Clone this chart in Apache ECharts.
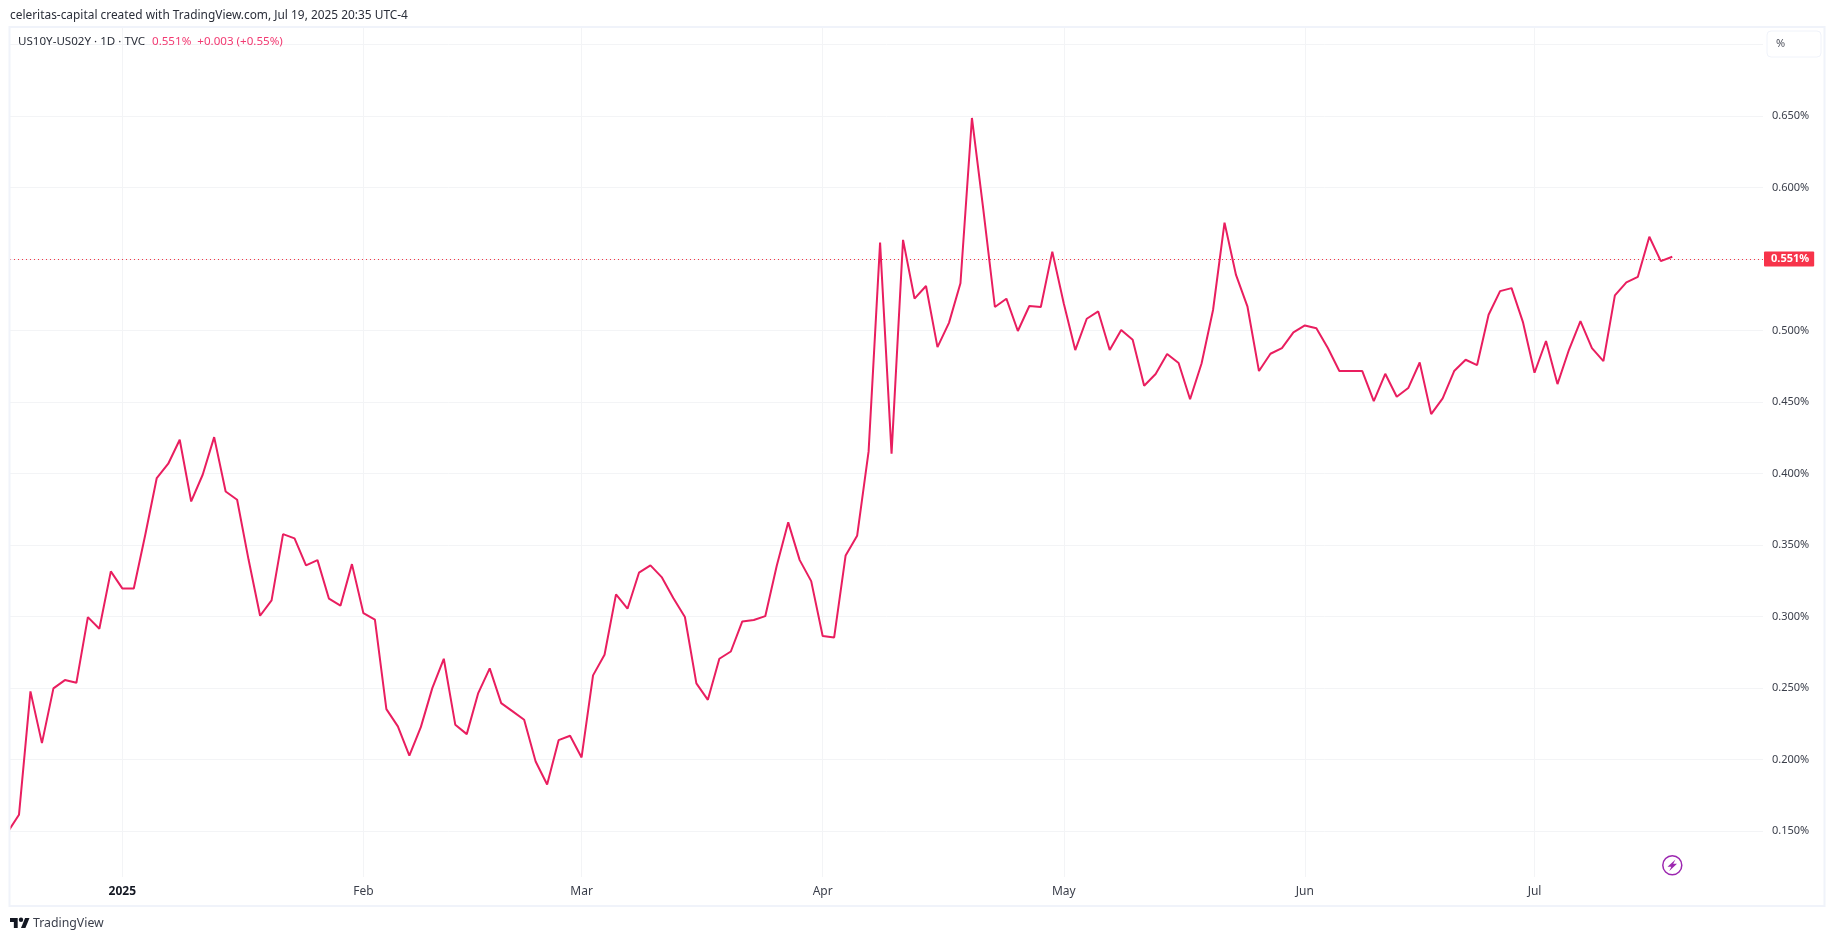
<!DOCTYPE html>
<html>
<head>
    <meta charset="utf-8">
    <title>US10Y-US02Y</title>
    <script src="https://cdn.jsdelivr.net/npm/echarts@6/dist/echarts.min.js"></script>
    <style>
        html, body { margin: 0; padding: 0; background: #fff; }
        #chart { width: 1835px; height: 941px; }
    </style>
</head>

<body>
    <div id="chart"></div>

    <script>
        // daily closes (%), one value per trading day
        var spreadValues = [
            0.149, 0.1614, 0.2477, 0.2115, 0.2498, 0.2556, 0.2537, 0.2996, 0.2915, 0.3316,
            0.3197, 0.3197, 0.3572, 0.3969, 0.4069, 0.4237, 0.3805, 0.3992, 0.4255, 0.3875,
            0.3817, 0.3397, 0.3006, 0.3113, 0.3577, 0.3547, 0.3358, 0.3395, 0.3125, 0.3076,
            0.3367, 0.3024, 0.2978, 0.2353, 0.2232, 0.2027, 0.2227, 0.25, 0.2705, 0.2244,
            0.2178, 0.2465, 0.2638, 0.2395, 0.2337, 0.2279, 0.1987, 0.1826, 0.2136, 0.2167,
            0.2015, 0.2589, 0.2733, 0.3155, 0.3055, 0.3307, 0.3358, 0.3274, 0.3129, 0.2997,
            0.2533, 0.2418, 0.2705, 0.2756, 0.2966, 0.2976, 0.3003, 0.3355, 0.3659, 0.3395,
            0.3248, 0.2864, 0.2854, 0.3428, 0.3565, 0.4155, 0.5615, 0.414, 0.5634, 0.5224,
            0.5312, 0.4884, 0.5054, 0.5331, 0.6487, 0.5841, 0.5165, 0.5223, 0.4997, 0.5172,
            0.5165, 0.5552, 0.519, 0.4864, 0.5083, 0.5134, 0.4864, 0.5004, 0.4936, 0.4614,
            0.4696, 0.4836, 0.4773, 0.452, 0.477, 0.5144, 0.5755, 0.5389, 0.5167, 0.4717,
            0.4838, 0.4878, 0.4987, 0.5036, 0.5017, 0.4878, 0.4717, 0.4717, 0.4717, 0.4507,
            0.4698, 0.4537, 0.4598, 0.4777, 0.4416, 0.4526, 0.4717, 0.4796, 0.4759, 0.5111,
            0.5276, 0.5297, 0.5057, 0.4705, 0.4927, 0.4626, 0.4866, 0.5066, 0.4878, 0.4787,
            0.5246, 0.5337, 0.5376, 0.5656, 0.5486, 0.5516
        ];
        var lastValue = 0.5516;
        var lastLabel = '0.551%';

        // month ticks, position = bar index
        var monthIndex = [10, 31, 50, 71, 92, 113, 133];
        var monthLabels = ['2025', 'Feb', 'Mar', 'Apr', 'May', 'Jun', 'Jul'];

        var gridTicks = [0.15, 0.2, 0.25, 0.3, 0.35, 0.4, 0.45, 0.5, 0.55, 0.6, 0.65, 0.7];
        var labelTicks = [0.15, 0.2, 0.25, 0.3, 0.35, 0.4, 0.45, 0.5, 0.55, 0.6, 0.65];

        var headerText = 'celeritas-capital created with TradingView.com, Jul 19, 2025 20:35 UTC-4';
        var symbolText = 'US10Y-US02Y · 1D · TVC';
        var quoteText = '0.551%  +0.003 (+0.55%)';

        var lineColor = '#e91e5f';
        var gridColor = '#f3f4f6';
        var frameColor = '#f0f3fa';
        var textColor = '#131722';
        var uiFont = '"Noto Sans", sans-serif';

        var seriesData = spreadValues.map(function (v, i) { return [i, v]; });

        var chart = echarts.init(document.getElementById('chart'));

        var option = {
            animation: false,
            backgroundColor: '#ffffff',
            grid: { left: 10, right: 72, top: 28, bottom: 64 },
            xAxis: {
                type: 'value',
                min: 0.218,
                max: 152.9,
                axisLine: { show: false },
                axisTick: { show: false, customValues: monthIndex },
                splitLine: { show: true, lineStyle: { color: gridColor, width: 1 } },
                axisLabel: {
                    customValues: monthIndex,
                    margin: 9,
                    fontFamily: uiFont,
                    fontSize: 12,
                    color: '#3a3e4a',
                    formatter: function (value) {
                        var label = monthLabels[monthIndex.indexOf(value)];
                        return label === '2025' ? '{year|2025}' : label;
                    },
                    rich: {
                        year: { fontFamily: uiFont, fontSize: 12, fontWeight: 'bold', color: textColor }
                    }
                }
            },
            yAxis: {
                type: 'value',
                position: 'right',
                min: 0.1179,
                max: 0.7116,
                axisLine: { show: false },
                axisTick: { show: false, customValues: gridTicks },
                splitLine: { show: true, lineStyle: { color: gridColor, width: 1 } },
                axisLabel: {
                    customValues: labelTicks,
                    margin: 9,
                    fontFamily: uiFont,
                    fontSize: 11,
                    color: '#3a3e4a',
                    formatter: function (value) { return value.toFixed(3) + '%'; }
                }
            },
            series: [{
                name: 'US10Y-US02Y',
                type: 'line',
                data: seriesData,
                symbol: 'none',
                clip: true,
                lineStyle: { color: lineColor, width: 2 },
                markLine: {
                    silent: true,
                    symbol: 'none',
                    lineStyle: { color: '#f23645', type: [1, 3], width: 1 },
                    label: {
                        show: true,
                        position: 'end',
                        distance: 1,
                        formatter: lastLabel,
                        backgroundColor: '#f7334a',
                        color: '#ffffff',
                        fontFamily: uiFont,
                        fontSize: 11,
                        fontWeight: 'bold',
                        padding: [2, 5, 2, 7],
                        borderRadius: 1
                    },
                    data: [{ yAxis: lastValue }]
                }
            }],
            graphic: [
                // pane frame
                { type: 'rect', silent: true, z: 50, shape: { x: 9.5, y: 27, width: 1815, height: 879 },
                  style: { fill: 'none', stroke: frameColor, lineWidth: 2 } },
                // header
                { type: 'text', z: 100, x: 10, y: 10, style: { text: headerText, fill: '#2a2e39', font: '11.9px ' + uiFont } },
                { type: 'text', z: 100, x: 18, y: 36, style: { text: symbolText, fill: '#2a2e39', font: '11.6px ' + uiFont } },
                { type: 'text', z: 100, x: 152, y: 36, style: { text: quoteText, fill: '#f23a72', font: '11.6px ' + uiFont } },
                // % button
                { type: 'rect', z: 60, shape: { x: 1767, y: 31, width: 54, height: 26, r: 4 },
                  style: { fill: '#ffffff', stroke: frameColor, lineWidth: 1 } },
                { type: 'text', z: 100, x: 1776, y: 38, style: { text: '%', fill: '#50535e', font: '11px ' + uiFont } },
                // TradingView logo
                { type: 'polygon', silent: true,
                  shape: { points: [[10, 918], [17.7, 918], [17.7, 928], [13.85, 928], [13.85, 921.9], [10, 921.9]] },
                  style: { fill: '#131722' } },
                { type: 'polygon', silent: true,
                  shape: { points: [[21, 928], [25.1, 918], [29.5, 918], [25.4, 928]] },
                  style: { fill: '#131722' } },
                { type: 'circle', silent: true, shape: { cx: 21, cy: 919.8, r: 2.2 }, style: { fill: '#131722' } },
                { type: 'text', x: 33, y: 917, style: { text: 'TradingView', fill: '#3a3e4a', font: '12.3px ' + uiFont } },
                // lightning badge
                { type: 'circle', z: 60, shape: { cx: 1672.3, cy: 865.3, r: 9.5 },
                  style: { fill: '#ffffff', stroke: '#9c27b0', lineWidth: 1.5 } },
                { type: 'polygon', z: 61, silent: true,
                  shape: { points: [[1675.5, 859.5], [1667.5, 866.8], [1671.3, 866.8], [1669.3, 871], [1677, 863.8], [1673.2, 863.8]] },
                  style: { fill: '#9c27b0' } }
            ]
        };
        chart.setOption(option);
    </script>
</body>
</html>
